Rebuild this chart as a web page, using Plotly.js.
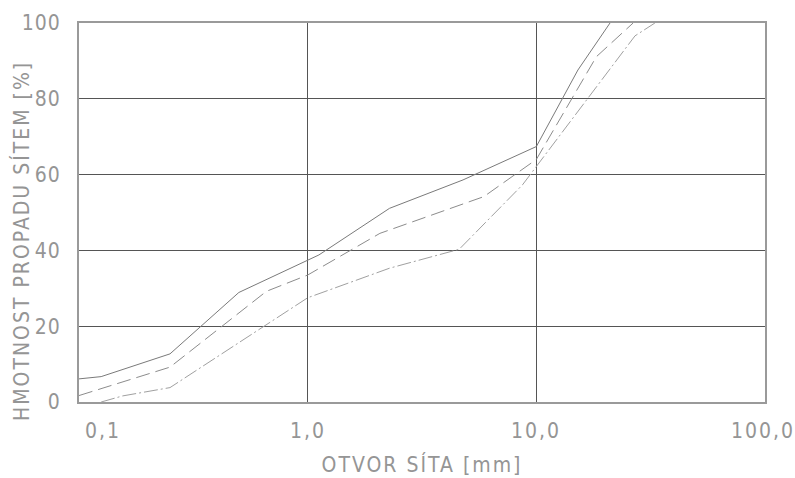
<!DOCTYPE html>
<html>
<head>
<meta charset="utf-8">
<script src="https://cdn.plot.ly/plotly-3.0.1.min.js"></script>
<style>
html,body{margin:0;padding:0;background:#fff;}
#chart{width:795px;height:478px;}
.xtitle,.annotation-text{letter-spacing:2px;}
.ytick text{letter-spacing:1px;}
.annotation.ytitle-ann .annotation-text{letter-spacing:2.2px;}
</style>
</head>
<body>
<div id="chart"></div>
<script>
// Sieve curves (opening in mm, passing %)
const upperX = [0.1, 0.125, 0.25, 0.5, 1.12, 2.28, 4.78, 10, 15.2, 21];
const upperY = [6.1, 6.7, 12.7, 28.9, 38.8, 51.1, 58.6, 67.4, 87.6, 100];

const middleX = [0.1, 0.25, 0.66, 1.0, 2.07, 5.9, 10, 18.3, 26.5];
const middleY = [1.7, 9.2, 29.2, 33.5, 44.5, 54.2, 64, 91.1, 100];

const lowerX = [0.125, 0.155, 0.25, 1.0, 2.28, 4.6, 8.7, 27, 33];
const lowerY = [0, 1.6, 3.8, 27.5, 35.3, 40.3, 57.3, 96.6, 100];

const xTickVals = [0.1, 1, 10, 100];
const xTickText = ['0,1', '1,0', '10,0', '100,0'];
const yTickVals = [0, 20, 40, 60, 80, 100];
const yTickText = ['0', '20', '40', '60', '80', '100'];

const xTitle = 'OTVOR SÍTA [mm]';
const yTitle = 'HMOTNOST PROPADU SÍTEM [%]';

const FONT = '"Liberation Sans Narrow", "DejaVu Sans Condensed", sans-serif';
const TXT = '#959595';

const traces = [
  {x: upperX, y: upperY, mode: 'lines', line: {color: '#7a7a7a', width: 1, dash: 'solid'}},
  {x: middleX, y: middleY, mode: 'lines', line: {color: '#8c8c8c', width: 1, dash: '14px,6px'}},
  {x: lowerX, y: lowerY, mode: 'lines', line: {color: '#a0a0a0', width: 1, dash: '14px,3px,2px,3px'}}
];

const xShift = [24, 0, 0, -2];
const annotations = xTickVals.map((v, i) => ({
  x: Math.log10(v), y: 0, xref: 'x', yref: 'y',
  text: xTickText[i], showarrow: false,
  yanchor: 'top', xanchor: 'center', yshift: -15, xshift: xShift[i],
  font: {family: FONT, size: 21, color: TXT}
}));
annotations.push({
  x: -0.083, y: 0.425, xref: 'paper', yref: 'paper',
  text: yTitle, showarrow: false, textangle: -90,
  xanchor: 'center', yanchor: 'middle',
  font: {family: FONT, size: 21, color: TXT}
});

const layout = {
  width: 795, height: 478,
  margin: {l: 79, r: 30, t: 23, b: 76},
  paper_bgcolor: '#fff', plot_bgcolor: '#fff',
  showlegend: false,
  xaxis: {
    type: 'log', range: [-1, 2],
    tickvals: xTickVals, showticklabels: false, ticks: '',
    showgrid: true, gridcolor: '#555', gridwidth: 1,
    showline: true, mirror: true, linecolor: '#9a9a9a', linewidth: 2,
    zeroline: false,
    title: {text: xTitle, font: {family: FONT, size: 21, color: TXT}, standoff: 54}
  },
  yaxis: {
    range: [0, 100],
    tickvals: yTickVals, ticktext: yTickText, ticks: '',
    showgrid: true, gridcolor: '#555', gridwidth: 1,
    showline: true, mirror: true, linecolor: '#9a9a9a', linewidth: 2,
    zeroline: false,
    tickfont: {family: FONT, size: 21, color: TXT},
    ticklabelstandoff: 12
  },
  annotations: annotations
};

Plotly.newPlot('chart', traces, layout, {displayModeBar: false, staticPlot: true});
</script>
</body>
</html>
